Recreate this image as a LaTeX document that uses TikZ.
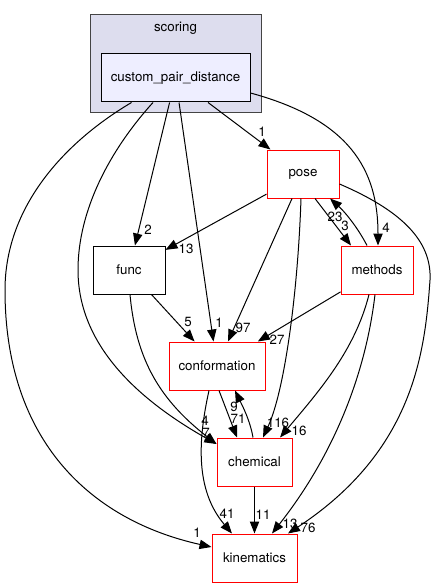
\documentclass[tikz,border=0pt]{standalone}
\usepackage{fontspec}
\setmainfont{TeX Gyre Heros}
\usetikzlibrary{arrows.meta,calc}

\definecolor{clusterfill}{HTML}{DDDDEE}
\definecolor{clusterline}{HTML}{444444}
\definecolor{dirfill}{HTML}{EEEEFF}

\begin{document}
\begin{tikzpicture}[
  x=0.75pt, y=-0.75pt,
  dirbox/.style={draw, line width=0.75pt, minimum width=54pt, minimum height=36pt,
    inner sep=0pt, font=\fontsize{10}{12}\selectfont},
  redbox/.style={dirbox, draw=red},
  dep/.style={-{Triangle[length=9pt, width=7pt]}, line width=0.75pt},
  num/.style={inner sep=0pt, font=\fontsize{10}{12}\selectfont}
]
\useasboundingbox (0,0) rectangle (437,588);

% cluster
\node[draw=clusterline, fill=clusterfill, line width=0.75pt, minimum width=128.25pt,
  minimum height=73.5pt, inner sep=0pt] (scoring) at (175.5,64) {};
\node[num] (scoringname) at (175.5,28) {scoring};
\node[dirbox, fill=dirfill, minimum width=111.75pt] (cpd) at (175.5,78) {custom\_pair\_distance};

% directories
\node[redbox] (pose) at (303,174) {pose};
\node[dirbox] (func) at (129,270) {func};
\node[redbox] (methods) at (377,270) {methods};
\node[redbox, minimum width=72pt] (conf) at (217,366) {conformation};
\node[redbox, minimum width=56.25pt] (chem) at (254.5,462) {chemical};
\node[redbox, minimum width=63.75pt] (kin) at (254.5,558) {kinematics};

% from custom_pair_distance
\draw[dep] (cpd) -- (pose);
\draw[dep] (cpd) -- (func);
\draw[dep] (cpd) -- (conf);
\draw[dep] ($(cpd.east)+(0,15)$) .. controls (350,120) and (378,170) .. ($(methods.north)+(1,0)$);
\draw[dep] ($(cpd.south)+(-22.5,0)$) .. controls (110,150) and (78,210) .. (78,270)
  .. controls (78,340) and (130,395) .. ($(chem.west)+(0,-18)$);
\draw[dep] ($(cpd.south)+(-44,0)$) .. controls (60,145) and (5,210) .. (5,290)
  .. controls (5,440) and (90,520) .. ($(kin.west)+(0,-11)$);

% from pose
\draw[dep] (pose) -- (func);
\draw[dep] (pose) -- (conf);
\draw[dep] ($(pose.south)+(-2,0)$) .. controls (298,290) and (285,390) .. ($(chem.north)+(8.5,0)$);
\draw[dep] ($(pose.south)+(12,0)$) -- ($(methods.north)+(-26,0)$);
\draw[dep] ($(pose.east)+(0,10)$) .. controls (400,210) and (432,240) .. (430,280)
  .. controls (425,350) and (415,450) .. ($(kin.north)+(33.5,0)$);

% from methods
\draw[dep] ($(methods.north)+(-10,0)$) .. controls (358,228) and (345,212) .. ($(pose.south)+(27,0)$);
\draw[dep] (methods) -- (conf);
\draw[dep] ($(methods.south)+(-8,0)$) .. controls (355,350) and (320,390) .. ($(chem.north)+(25.5,0)$);
\draw[dep] ($(methods.south)+(-2,0)$) .. controls (365,380) and (330,460) .. ($(kin.north)+(17.5,0)$);

% from func
\draw[dep] (func) -- (conf);
\draw[dep] ($(func.south)+(1,0)$) .. controls (136,360) and (160,400) .. ($(chem.west)+(0,-18)$);

% from conformation and chemical
\draw[dep] ($(conf.south)+(2,0)$) -- ($(chem.north)+(-17.5,0)$);
\draw[dep] ($(chem.north)+(-1.5,0)$) .. controls (250,420) and (242,405) .. ($(conf.south)+(18,0)$);
\draw[dep] ($(conf.south)+(-8,0)$) .. controls (198,440) and (195,490) .. ($(kin.north)+(-22.5,0)$);
\draw[dep] (chem) -- (kin);

% counts
\node[num] (n1) at (262,132) {1};
\node[num] (n2) at (386,228) {4};
\node[num] (n3) at (148,230) {2};
\node[num] (n4) at (186,249) {13};
\node[num] (n5) at (335,217) {23};
\node[num] (n6) at (345,226) {3};
\node[num] (n7) at (188,322) {5};
\node[num] (n8) at (219,323) {1};
\node[num] (n9) at (243,328) {97};
\node[num] (n10) at (277,340) {27};
\node[num] (n11) at (234,407) {9};
\node[num] (n12) at (238,419) {71};
\node[num] (n13) at (205,421) {4};
\node[num] (n14) at (206,433) {7};
\node[num] (n15) at (278,423) {116};
\node[num] (n16) at (299,431) {16};
\node[num] (n17) at (227,514) {41};
\node[num] (n18) at (263,515) {11};
\node[num] (n19) at (197,533) {1};
\node[num] (n20) at (290,524) {13};
\node[num] (n21) at (308,528) {76};
\end{tikzpicture}
\end{document}
